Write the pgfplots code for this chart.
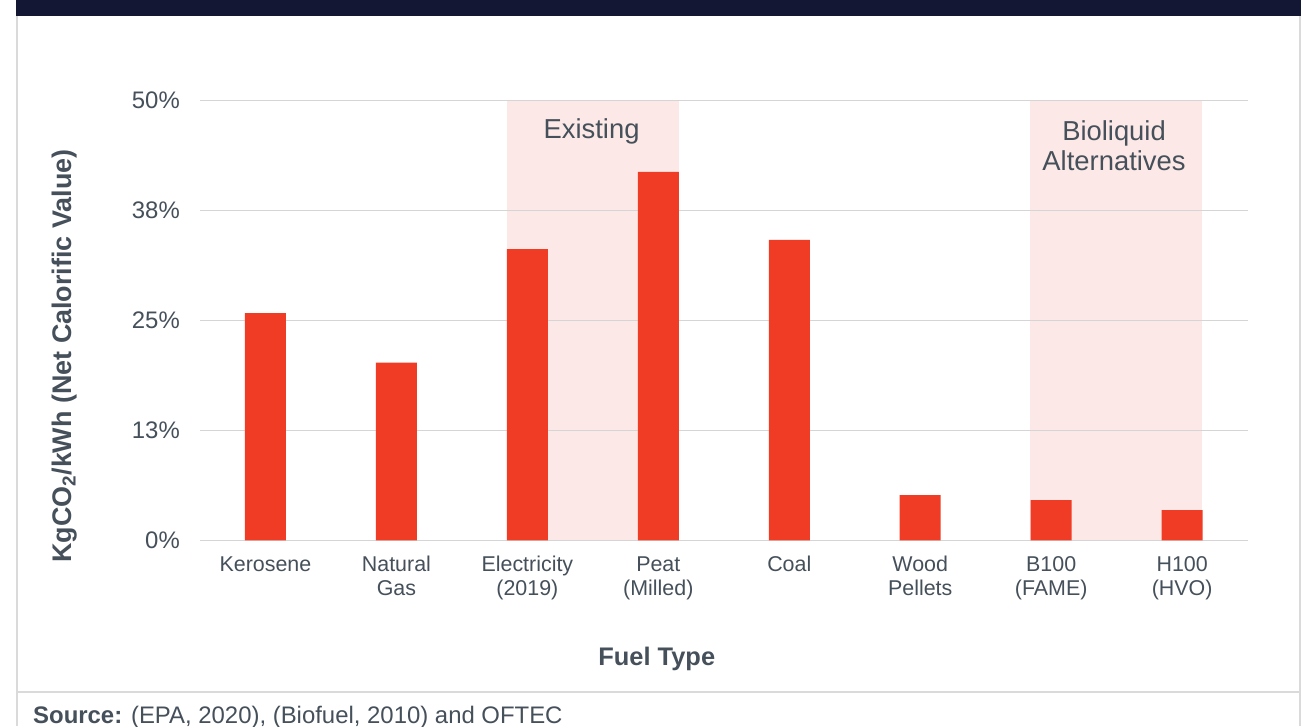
\documentclass[border=0pt]{standalone}
\usepackage{fontspec}
\setmainfont{Liberation Sans}
\usepackage{pgfplots}
\pgfplotsset{compat=1.18}
\definecolor{barc}{HTML}{F03C24}
\definecolor{shadec}{HTML}{FCE9E7}
\definecolor{txt}{HTML}{45505A}
\definecolor{gridc}{HTML}{D5D5D5}
\definecolor{navy}{HTML}{141733}
\definecolor{framec}{HTML}{DADADA}
\begin{document}
\begin{tikzpicture}[x=1bp,y=1bp]
\fill[white] (0,0) rectangle (1313,726);
\fill[navy] (16,710) rectangle (1301,726);
\draw[framec, line width=2bp] (17,0) -- (17,710);
\draw[framec, line width=2bp] (1300,0) -- (1300,710);
\draw[framec, line width=2bp] (17,34) -- (1300,34);
\node[anchor=base west, inner sep=0pt, text=txt, font=\fontsize{24}{28}\selectfont] at (33,3) {\textbf{Source:} (EPA, 2020), (Biofuel, 2010) and OFTEC};
% shaded group backgrounds (drawn before the axis so the grid lies on top)
\fill[shadec] (506.5,185.5) rectangle (678.7,625.5);
\fill[shadec] (1030,185.5) rectangle (1202.3,625.5);
\begin{axis}[
  at={(200bp,185.5bp)}, anchor=south west,
  scale only axis, width=1047.7bp, height=440bp,
  xmin=-0.5, xmax=7.5, ymin=0, ymax=50,
  axis line style={draw=none},
  major tick length=0pt,
  ytick={0,12.5,25,37.5,50},
  yticklabels={0\%,13\%,25\%,38\%,50\%},
  ymajorgrids, grid style={gridc, line width=1.5bp},
  xtick={0,1,2,3,4,5,6,7},
  xticklabels={\strut Kerosene, \strut Natural\\Gas, \strut Electricity\\(2019), \strut Peat\\(Milled), \strut Coal, \strut Wood\\Pellets, \strut B100\\(FAME), \strut H100\\(HVO)},
  yticklabel style={anchor=east, inner sep=0pt, xshift=-20bp, font=\fontsize{24}{28}\selectfont, text=txt},
  xticklabel style={anchor=north, inner sep=0pt, yshift=-13.8bp, align=center, font=\fontsize{21.5}{24.5}\selectfont, text=txt},
  xlabel={\textbf{Fuel Type}},
  xlabel style={at={(rel axis cs:0.436,-0.283)}, anchor=base, inner sep=0pt, font=\fontsize{25.5}{30}\selectfont, text=txt},
  ylabel={\textbf{KgCO\textsubscript{2}/kWh (Net Calorific Value)}},
  ylabel style={at={(rel axis cs:-0.1231,0.419)}, anchor=base, inner sep=0pt, font=\fontsize{27}{30}\selectfont, text=txt},
]
\addplot[ybar, fill=barc, draw=none, bar width=41bp, bar shift=0pt] coordinates {
  (0,25.85) (1,20.2) (2,33.1) (3,41.9) (4,34.15) (5,5.15) (6,4.6) (7,3.45)
};
\node[anchor=base, inner sep=0pt, text=txt, font=\fontsize{27.5}{32}\selectfont] at (axis cs:2.49,45.63) {Existing};
\node[anchor=base, inner sep=0pt, text=txt, font=\fontsize{27.5}{32}\selectfont] at (axis cs:6.48,45.51) {Bioliquid};
\node[anchor=base, inner sep=0pt, text=txt, font=\fontsize{27.5}{32}\selectfont] at (axis cs:6.48,41.99) {Alternatives};
\end{axis}
\pgfresetboundingbox
\useasboundingbox (0,0) rectangle (1313,726);
\end{tikzpicture}
\end{document}
